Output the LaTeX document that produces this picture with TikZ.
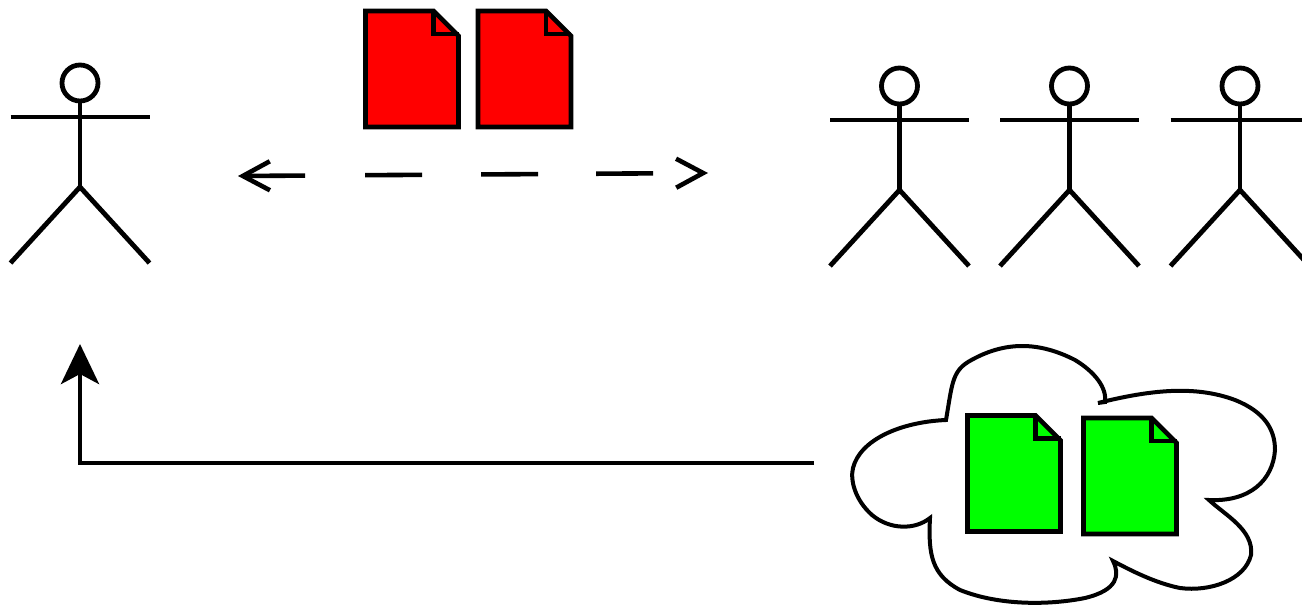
\documentclass[tikz,border=0pt]{standalone}
\usetikzlibrary{arrows.meta}
\begin{document}
\begin{tikzpicture}[x=1pt,y=-1pt,line cap=butt,
  ink/.style={line width=4.8pt,draw=black,line join=miter},
  thin ink/.style={line width=4.6pt,draw=black},
  actor/.pic={
    \draw[ink] (0,-34) circle[radius=18];
    \draw[ink] (-69.5,0) -- (69.5,0);
    \draw[ink] (0,-16) -- (0,70);
    \draw[ink,line join=bevel] (-69.5,146) -- (0,70) -- (69.5,146);
  },
  docu/.pic={
    \fill[fill=\docfill] (0,0) -- (68,0) -- (93,25) -- (93,116) -- (0,116) -- cycle;
    \draw[thin ink,line join=miter] (0,0) -- (68,0) -- (93,25) -- (93,116) -- (0,116) -- cycle;
    \draw[thin ink] (68,0) -- (68,23) -- (93,23);
  }]
\useasboundingbox (0,0) rectangle (1302,605);
\clip (0,0) rectangle (1302,605);
\definecolor{docred}{RGB}{255,0,0}
\definecolor{docgreen}{RGB}{0,255,0}
\def\docfill{docred}
\pic at (80,117) {actor};
\pic at (899.5,120) {actor};
\pic at (1069.5,120) {actor};
\pic at (1240,120) {actor};
\pic at (365.5,11) {docu};
\pic at (478,11) {docu};
\coordinate (dl) at (238,176);
\coordinate (dr) at (708,173);
\draw[line width=4.6pt,
  dash pattern=on 60pt off 60pt on 57pt off 59pt on 57pt off 58pt on 57pt off 1000pt,
  {Straight Barb[length=27pt,width=29pt,line width=4.6pt]}-{Straight Barb[length=27pt,width=29pt,line width=4.6pt]}]
  (dl) -- (dr);
\draw[ink,line width=4pt,fill=white,line join=miter]
  (946,420) .. controls (952,385) and (952,372) .. (968,362)
  .. controls (1005,340) and (1040,342) .. (1075,360)
  .. controls (1095,372) and (1107,388) .. (1105,402)
  -- (1098,403)
  .. controls (1150,390) and (1195,385) .. (1235,400)
  .. controls (1265,412) and (1275,430) .. (1275,450)
  .. controls (1273,480) and (1250,502) .. (1209,500)
  .. controls (1225,515) and (1254,530) .. (1251,555)
  .. controls (1245,580) and (1210,592) .. (1180,588)
  .. controls (1155,583) and (1130,570) .. (1113,561)
  .. controls (1120,575) and (1118,590) .. (1085,598)
  .. controls (1050,605) and (1000,606) .. (960,590)
  .. controls (932,575) and (928,555) .. (930,518)
  .. controls (915,530) and (890,530) .. (872,515)
  .. controls (855,500) and (850,480) .. (853,468)
  .. controls (860,440) and (900,422) .. (946,420) -- cycle;
\def\docfill{docgreen}
\pic at (967.5,415.5) {docu};
\pic at (1083.5,418) {docu};
\coordinate (cl) at (814,463);
\coordinate (ac) at (80,344);
\draw[ink,-{Stealth[length=40pt,width=38pt,inset=10pt]}] (cl) -- (80,463) -- (ac);
\end{tikzpicture}
\end{document}
